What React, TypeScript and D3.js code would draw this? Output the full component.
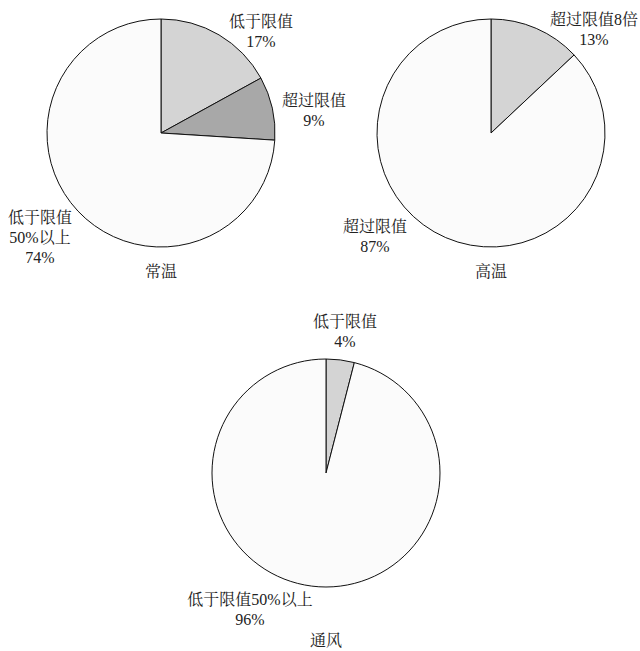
import { useMemo } from "react";
import * as d3 from "d3";

const WIDTH = 640;
const HEIGHT = 651;
const RADIUS = 114;

// chart titles
const titles = ["常温", "高温", "通风"];

// slice values per chart (percent, clockwise from 12 o'clock)
const normalValues = [17, 9, 74];
const hotValues = [13, 87];
const ventValues = [4, 96];

// slice labels per chart (lines)
const normalLabels = [["低于限值", "17%"], ["超过限值", "9%"], ["低于限值", "50%以上", "74%"]];
const hotLabels = [["超过限值8倍", "13%"], ["超过限值", "87%"]];
const ventLabels = [["低于限值", "4%"], ["低于限值50%以上", "96%"]];

// slice fills
const normalFills = ["#d4d4d4", "#a8a8a8", "#fbfbfb"];
const hotFills = ["#d4d4d4", "#fbfbfb"];
const ventFills = ["#d4d4d4", "#fbfbfb"];

// layout: pie centres, label offsets from centre, title offset
const layout = [
  { cx: 161, cy: 133, labelOffsets: [[100, -100], [153, -21], [-121, 106]], titleDy: 140 },
  { cx: 491, cy: 133, labelOffsets: [[103, -102], [-116, 105]], titleDy: 140 },
  { cx: 326, cy: 473, labelOffsets: [[19, -140], [-76, 138]], titleDy: 169 },
];

const FONT = "'Liberation Serif', 'Noto Serif CJK SC', 'Noto Sans CJK SC', serif";
const LINE_H = 20;

type PieProps = {
  values: number[];
  labels: string[][];
  fills: string[];
  title: string;
  cx: number;
  cy: number;
  labelOffsets: number[][];
  titleDy: number;
};

function Pie({ values, labels, fills, title, cx, cy, labelOffsets, titleDy }: PieProps) {
  const arcs = useMemo(() => {
    const pie = d3.pie<number>().sort(null).value((d) => d);
    return pie(values);
  }, [values]);
  const arcGen = d3.arc<d3.PieArcDatum<number>>().innerRadius(0).outerRadius(RADIUS);

  return (
    <g transform={`translate(${cx},${cy})`}>
      {arcs.map((a, i) => (
        <path key={i} d={arcGen(a) || ""} fill={fills[i]} stroke="#111" strokeWidth={1} />
      ))}
      {labels.map((lines, i) => {
        const [dx, dy] = labelOffsets[i];
        const top = dy - ((lines.length - 1) * LINE_H) / 2;
        return (
          <text key={i} textAnchor="middle" fontFamily={FONT} fontSize={16} fill="#222">
            {lines.map((ln, j) => (
              <tspan key={j} x={dx} y={top + j * LINE_H} dominantBaseline="middle">
                {ln}
              </tspan>
            ))}
          </text>
        );
      })}
      <text x={0} y={titleDy} textAnchor="middle" dominantBaseline="middle" fontFamily={FONT} fontSize={16} fill="#222">
        {title}
      </text>
    </g>
  );
}

export default function App() {
  const charts = [
    { values: normalValues, labels: normalLabels, fills: normalFills },
    { values: hotValues, labels: hotLabels, fills: hotFills },
    { values: ventValues, labels: ventLabels, fills: ventFills },
  ];
  return (
    <svg width={WIDTH} height={HEIGHT} style={{ position: "absolute", left: 0, top: 0, background: "#fff" }}>
      {charts.map((c, i) => (
        <Pie key={i} {...c} title={titles[i]} {...layout[i]} />
      ))}
    </svg>
  );
}
